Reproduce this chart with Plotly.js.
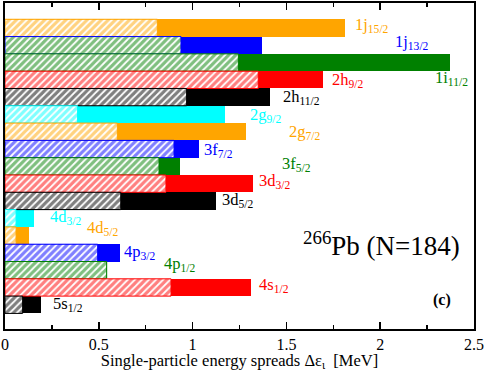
<!DOCTYPE html>
<html><head><meta charset="utf-8">
<script src="https://cdn.plot.ly/plotly-3.0.1.min.js"></script>
<style>html,body{margin:0;padding:0;background:#fff}#plot{width:485px;height:371px}</style>
</head><body><div id="plot"></div>
<script>
// states listed top to bottom
const states = ["1j15/2","1j13/2","1i11/2","2h9/2","2h11/2","2g9/2","2g7/2","3f7/2","3f5/2","3d3/2","3d5/2","4d3/2","4d5/2","4p3/2","4p1/2","4s1/2","5s1/2"];
const labelMain = ["1j","1j","1i","2h","2h","2g","2g","3f","3f","3d","3d","4d","4d","4p","4p","4s","5s"];
const labelSub = ["15/2","13/2","11/2","9/2","11/2","9/2","7/2","7/2","5/2","3/2","5/2","3/2","5/2","3/2","1/2","1/2","1/2"];
// total spread (solid) and hatched part, MeV
const totalSpread = [1.812,1.372,2.372,1.693,1.413,1.173,1.283,1.034,0.933,1.324,1.123,0.153,0.130,0.613,0.545,1.311,0.192];
const hatchSpread = [0.812,0.938,1.244,1.350,0.968,0.387,0.599,0.901,0.821,0.858,0.617,0.059,0.059,0.494,0.542,0.885,0.094];
const barColors = ["#FFA500","#0000FF","#008000","#FF0000","#000000","#00FFFF","#FFA500","#0000FF","#008000","#FF0000","#000000","#00FFFF","#FFA500","#0000FF","#008000","#FF0000","#000000"];
const hatchColors = ["#FFA500","#008000","#008000","#FF0000","#000000","#00FFFF","#FFA500","#0000FF","#008000","#FF0000","#000000","#00FFFF","#FFA500","#0000FF","#008000","#FF0000","#000000"];
// label anchor positions (x in MeV, y in bar-position units)
const labelX = [1.855,2.068,2.281,1.732,1.471,1.295,1.503,1.050,1.466,1.343,1.146,0.229,0.426,0.624,0.837,1.343,0.245];
const labelY = [17.14,16.16,14.08,13.97,12.99,11.95,10.97,9.93,9.13,8.15,7.05,6.07,5.44,4.06,3.36,2.15,1.06];

const n = states.length;
const pos = states.map((s,i)=>n-i);

const solid = {type:'bar', orientation:'h', y:pos, x:totalSpread, width:1,
  marker:{color:barColors, line:{width:0}}, hoverinfo:'skip', showlegend:false};
const hatched = {type:'bar', orientation:'h', y:pos, x:hatchSpread, width:1,
  marker:{color:'#ffffff', line:{color:barColors, width:1},
    pattern:{shape:'/', fgcolor:hatchColors, bgcolor:'#ffffff', size:5, solidity:0.65, fillmode:'overlay'}},
  hoverinfo:'skip', showlegend:false};

const serif = "'Liberation Serif', 'Times New Roman', serif";
const annotations = states.map((s,i)=>({
  x:labelX[i], y:labelY[i], xref:'x', yref:'y', xanchor:'left', yanchor:'middle',
  text: labelMain[i] + '<sub>' + labelSub[i] + '</sub>', showarrow:false,
  font:{family:serif, size:16.5, color:barColors[i]}
}));
annotations.push({x:0.975, y:0.26, xref:'paper', yref:'paper', xanchor:'right', yanchor:'middle',
  text:'<sup>266</sup>Pb (N=184)', showarrow:false, font:{family:serif, size:27, color:'#000'}});
annotations.push({x:0.955, y:0.09, xref:'paper', yref:'paper', xanchor:'right', yanchor:'middle',
  text:'<b>(c)</b>', showarrow:false, font:{family:serif, size:16, color:'#000'}});

const layout = {
  width:485, height:371, margin:{l:5, r:11, t:3, b:42},
  paper_bgcolor:'#fff', plot_bgcolor:'#fff', barmode:'overlay', bargap:0,
  font:{family:serif, color:'#000'},
  xaxis:{range:[0,2.5], dtick:0.5, tick0:0, ticks:'inside', ticklen:7, tickwidth:1.5, tickcolor:'#000',
    minor:{dtick:0.25, ticks:'inside', ticklen:4, tickwidth:1.5, tickcolor:'#000'},
    showline:true, linewidth:2, linecolor:'#000', mirror:'allticks', showgrid:false, zeroline:false,
    tickfont:{family:serif, size:16, color:'#000'},
    title:{text:'Single-particle energy spreads Δε<sub>ι</sub>  [MeV]', font:{family:serif, size:16.5, color:'#000'}, standoff:2}},
  yaxis:{range:[-0.4,18.44], showticklabels:false, ticks:'', showline:true, linewidth:2, linecolor:'#000', mirror:true,
    showgrid:false, zeroline:false},
  annotations:annotations
};
Plotly.newPlot('plot',[solid,hatched],layout,{staticPlot:true});
</script></body></html>
